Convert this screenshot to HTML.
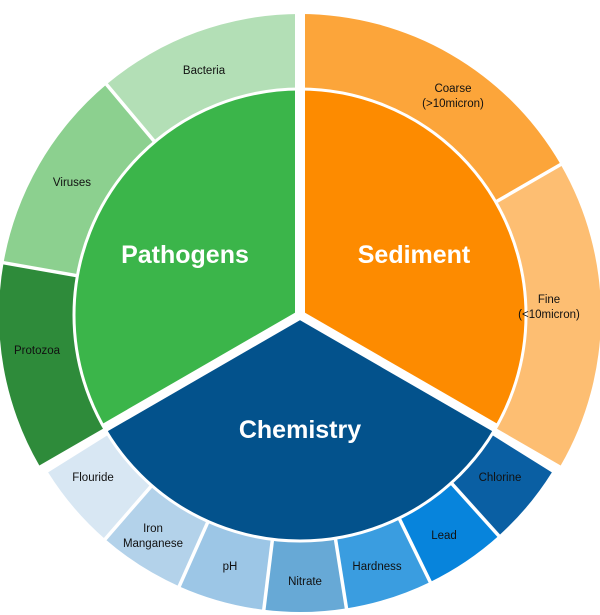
<!DOCTYPE html>
<html><head><meta charset="utf-8"><style>
html,body{margin:0;padding:0;background:#fff;}
svg{display:block;}
text{font-family:"Liberation Sans",Arial,sans-serif;}
.s{font-size:11.5px;fill:#111;text-anchor:middle;}
.b{font-size:25px;font-weight:bold;fill:#fff;text-anchor:middle;}
</style></head><body>
<svg id="g" width="600" height="615" viewBox="0 0 600 615">
<g id="segs"></g>
<g id="lines"></g>
<text class="s" x="204" y="74">Bacteria</text>
<text class="s" x="453" y="92">Coarse</text>
<text class="s" x="453" y="107">(&gt;10micron)</text>
<text class="s" x="72" y="186">Viruses</text>
<text class="s" x="549" y="303">Fine</text>
<text class="s" x="549" y="318">(&lt;10micron)</text>
<text class="s" x="37" y="354">Protozoa</text>
<text class="s" x="500" y="481">Chlorine</text>
<text class="s" x="444" y="539">Lead</text>
<text class="s" x="377" y="570">Hardness</text>
<text class="s" x="305" y="585">Nitrate</text>
<text class="s" x="230" y="570">pH</text>
<text class="s" x="153" y="532">Iron</text>
<text class="s" x="153" y="547">Manganese</text>
<text class="s" x="93" y="481">Flouride</text>
<text class="b" x="185" y="263">Pathogens</text>
<text class="b" x="414" y="263">Sediment</text>
<text class="b" x="300" y="438">Chemistry</text>
</svg>
<script>
var cx=300,cy=315,NS="http://www.w3.org/2000/svg";
function P(a,r){a=a*Math.PI/180;return [cx+r*Math.cos(a),cy+r*Math.sin(a)];}
function ann(a0,a1,r0,r1,c){
 var p1=P(a0,r1),p2=P(a1,r1),p3=P(a1,r0),p4=P(a0,r0),l=(a1-a0)>180?1:0;
 var d="M"+p1+"A"+r1+","+r1+" 0 "+l+" 1 "+p2+"L"+p3+(r0>0?"A"+r0+","+r0+" 0 "+l+" 0 "+p4:"")+"Z";
 var e=document.createElementNS(NS,"path");e.setAttribute("d",d);e.setAttribute("fill",c);
 document.getElementById("segs").appendChild(e);}
function line(a,r0,r1,w){var p=P(a,r0),q=P(a,r1),e=document.createElementNS(NS,"line");
 e.setAttribute("x1",p[0]);e.setAttribute("y1",p[1]);e.setAttribute("x2",q[0]);e.setAttribute("y2",q[1]);
 e.setAttribute("stroke","#fff");e.setAttribute("stroke-width",w);document.getElementById("lines").appendChild(e);}
ann(-90,30,0,225,"#fd8b00");
ann(30,150,0,225,"#03528c");
ann(150,270,0,225,"#3bb54a");
ann(-90,-30,227,301,"#fca53a");
ann(-30,30,227,301,"#fdbe72");
ann(32,48,227,297,"#0a5fa3");
ann(48,64,227,297,"#0784dc");
ann(64,81,227,297,"#3a9de0");
ann(81,97,227,297,"#67a9d6");
ann(97,114,227,297,"#9cc6e6");
ann(114,131,227,297,"#b3d2ea");
ann(131,148,227,297,"#d8e7f3");
ann(150,190,227,301,"#2e8b3a");
ann(190,230,227,301,"#8cd08f");
ann(230,270,227,301,"#b3dfb6");
line(-90,0,305,10);line(30,0,226,9);line(150,0,226,9);
[-30,48,64,81,97,114,131,190,230].forEach(function(a){line(a,225,305,3.5);});
var c=document.createElementNS(NS,"circle");c.setAttribute("cx",cx);c.setAttribute("cy",cy);c.setAttribute("r",226);
c.setAttribute("fill","none");c.setAttribute("stroke","#fff");c.setAttribute("stroke-width",3);
document.getElementById("lines").appendChild(c);
</script>
</body></html>
